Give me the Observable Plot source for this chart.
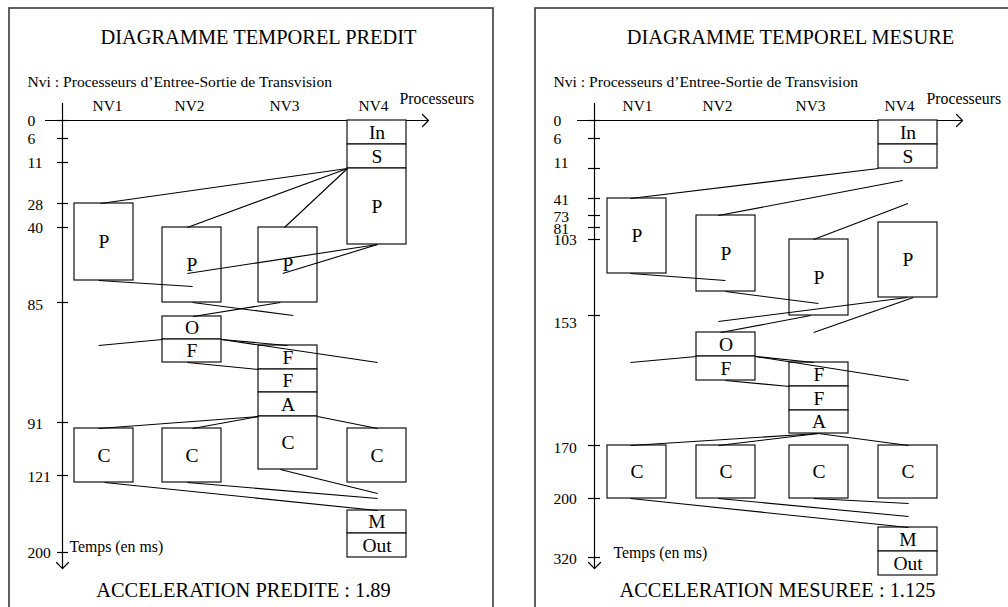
<!DOCTYPE html>
<html><head><meta charset="utf-8">
<script src="https://cdn.jsdelivr.net/npm/d3@7"></script>
<script src="https://cdn.jsdelivr.net/npm/@observablehq/plot@0.6"></script>
<style>
body{margin:0;background:#fff;}
#wrap{display:flex;width:1008px;height:607px;overflow:hidden;}
#wrap svg{overflow:hidden;flex:none;}
</style></head><body><div id="wrap"></div>
<script>
// ---------- shared ----------
const processors = ["NV1", "NV2", "NV3", "NV4"];
const subtitle = "Nvi : Processeurs d\u2019Entree-Sortie de Transvision";
const xAxisLabel = "Processeurs";
const yAxisLabel = "Temps (en ms)";

// ---------- predicted diagram ----------
const predTitle = "DIAGRAMME TEMPOREL PREDIT";
const predCaption = "ACCELERATION PREDITE : 1.89";
// tick label, position on time axis (diagram units), label position
const predTickLabels = ["0", "6", "11", "28", "40", "85", "91", "121", "200"];
const predTickPos = [0, 18, 42, 83, 107, 182, 302, 355, 432];
const predTickLabelPos = [0.5, 18.5, 42.5, 84, 107.5, 184.5, 303, 356.5, 432];
const predBlockProc = ["NV4","NV4","NV4","NV1","NV2","NV3","NV2","NV2","NV3","NV3","NV3","NV3","NV1","NV2","NV4","NV4","NV4"];
const predBlockLabel = ["In","S","P","P","P","P","O","F","F","F","A","C","C","C","C","M","Out"];
const predBlockStart = [0, 24, 48, 83, 107, 107, 196, 219, 225, 249, 272, 296, 308, 308, 308, 390, 413];
const predBlockEnd = [24, 48, 124, 160, 182, 182, 219, 242, 249, 272, 296, 349, 362, 362, 362, 413, 437];
// links: from processor, fraction across box, time -> to processor, fraction, time
const predLinks = [
  ["NV4", 0, 48, "NV1", 0.44, 83],
  ["NV4", 0, 48, "NV2", 0.42, 107],
  ["NV4", 0, 48, "NV3", 0.44, 107],
  ["NV4", 0.51, 124, "NV2", 0.42, 153],
  ["NV4", 0.51, 124, "NV3", 0.41, 153],
  ["NV1", 0.41, 160, "NV2", 0.51, 166],
  ["NV2", 0.51, 182, "NV3", 0.59, 195],
  ["NV3", 0.37, 182, "NV2", 0.52, 196],
  ["NV1", 0.41, 225, "NV2", 0, 219],
  ["NV2", 1, 219, "NV3", 0.49, 225],
  ["NV2", 1, 219, "NV4", 0.51, 242],
  ["NV2", 0.42, 242, "NV3", 0, 249],
  ["NV3", 0, 296, "NV1", 0.41, 308],
  ["NV3", 0, 296, "NV2", 0.51, 308],
  ["NV3", 1, 296, "NV4", 0.51, 308],
  ["NV3", 0.37, 349, "NV4", 0.51, 373],
  ["NV2", 0.42, 362, "NV4", 0.51, 378],
  ["NV1", 0.51, 362, "NV4", 0.51, 390]
];

// ---------- measured diagram ----------
const measTitle = "DIAGRAMME TEMPOREL MESURE";
const measCaption = "ACCELERATION MESUREE : 1.125";
const measTickLabels = ["0", "6", "11", "41", "73", "81", "103", "153", "170", "200", "320"];
const measTickPos = [0, 18, 48, 78, 95, 107, 119, 195, 325, 378, 437];
const measTickLabelPos = [0.5, 18.5, 42.5, 79.5, 96.5, 108, 119.5, 202, 327, 378.5, 438.5];
const measBlockProc = ["NV4","NV4","NV1","NV2","NV3","NV4","NV2","NV2","NV3","NV3","NV3","NV1","NV2","NV3","NV4","NV4","NV4"];
const measBlockLabel = ["In","S","P","P","P","P","O","F","F","F","A","C","C","C","C","M","Out"];
const measBlockStart = [0, 24, 78, 95, 119, 102, 212, 236, 242, 266, 290, 325, 325, 325, 325, 407, 431];
const measBlockEnd = [24, 48, 153, 171, 195, 177, 236, 260, 266, 290, 313, 378, 378, 378, 378, 431, 455];
const measLinks = [
  ["NV4", 0, 48, "NV1", 0.39, 78],
  ["NV4", 0.41, 60, "NV2", 0.37, 95],
  ["NV4", 0.5, 83, "NV3", 0.41, 119],
  ["NV1", 0.39, 153, "NV2", 0.49, 160],
  ["NV2", 0.49, 171, "NV3", 0.49, 183],
  ["NV4", 0.49, 177, "NV2", 0.37, 201],
  ["NV4", 0.59, 177, "NV3", 0.41, 212],
  ["NV3", 0.36, 195, "NV2", 0.41, 212],
  ["NV1", 0.39, 242, "NV2", 0, 236],
  ["NV2", 1, 236, "NV3", 0.41, 242],
  ["NV2", 1, 236, "NV4", 0.51, 260],
  ["NV2", 0.49, 260, "NV3", 0, 266],
  ["NV3", 0.49, 313, "NV1", 0.39, 325],
  ["NV3", 0.49, 313, "NV2", 0.37, 325],
  ["NV3", 0.49, 313, "NV4", 0.51, 325],
  ["NV3", 0.41, 378, "NV4", 0.51, 383],
  ["NV2", 0.37, 378, "NV4", 0.51, 396],
  ["NV1", 0.39, 378, "NV4", 0.51, 407]
];

// ---------- layout ----------
const W = 504, H = 607, AXIS_Y = 120;
const serif = "'Liberation Serif', 'Times New Roman', serif";

function panel(cfg) {
  const {originX, colLeft, headerX, boxW, tickX1, tickX2, labelX, border, title, caption, captionX,
         tempsX, tempsY, procX, axisEnd, tickLabels, tickPos, tickLabelPos,
         bProc, bLabel, bStart, bEnd, links} = cfg;
  const bx = p => colLeft[processors.indexOf(p)];
  const blocks = bLabel.map((l, i) => ({
    label: l, x1: bx(bProc[i]), x2: bx(bProc[i]) + boxW,
    cx: bx(bProc[i]) + boxW / 2, y1: bStart[i], y2: bEnd[i], mid: (bStart[i] + bEnd[i]) / 2
  }));
  const segs = links.map(([p1, f1, t1, p2, f2, t2]) => ({
    x1: bx(p1) + f1 * boxW, y1: t1, x2: bx(p2) + f2 * boxW, y2: t2
  }));
  const ticks = tickLabels.map((l, i) => ({label: l, t: tickPos[i], lt: tickLabelPos[i]}));
  const vEnd = 448;
  const arrows = [
    {x: axisEnd - 6, y: -6, g: "h"}, {x: axisEnd, y: 0, g: "h"}, {x: axisEnd - 6, y: 6, g: "h"},
    {x: -6, y: vEnd - 6, g: "v"}, {x: 0, y: vEnd, g: "v"}, {x: 6, y: vEnd - 6, g: "v"}
  ];
  return Plot.plot({
    width: W, height: H, margin: 0,
    x: {domain: [-originX, W - originX], range: [0, W], axis: null},
    y: {domain: [-AXIS_Y, H - AXIS_Y], range: [0, H], axis: null},
    style: {fontFamily: serif, background: "white", color: "black"},
    marks: [
      Plot.rect([border], {x1: "x1", x2: "x2", y1: "y1", y2: "y2", fill: "none", stroke: "#3a3a3a", strokeWidth: 1.6}),
      Plot.text([title], {x: 196, y: -77, text: d => d, fontSize: 20.4, lineAnchor: "bottom"}),
      Plot.text([subtitle], {x: labelX, y: -34, text: d => d, fontSize: 15.6, textAnchor: "start", lineAnchor: "bottom"}),
      Plot.text(processors, {x: (d, i) => headerX[i], y: -10, text: d => d, fontSize: 15.4, lineAnchor: "bottom"}),
      Plot.text([xAxisLabel], {x: procX, y: -17, text: d => d, fontSize: 15.8, textAnchor: "start", lineAnchor: "bottom"}),
      Plot.text([yAxisLabel], {x: tempsX, y: tempsY, text: d => d, fontSize: 15.8, textAnchor: "start", lineAnchor: "bottom"}),
      Plot.text([caption], {x: captionX, y: 476, text: d => d, fontSize: 20.4, lineAnchor: "bottom"}),
      // axes
      Plot.ruleY([0], {x1: -17, x2: axisEnd, stroke: "black", strokeWidth: 1.2}),
      Plot.ruleX([0], {y1: -17, y2: vEnd, stroke: "black", strokeWidth: 1.2}),
      Plot.line(arrows, {x: "x", y: "y", z: "g", stroke: "black", strokeWidth: 1.2}),
      Plot.ruleY(ticks, {y: "t", x1: tickX1, x2: tickX2, stroke: "black", strokeWidth: 1.2}),
      Plot.text(ticks, {x: labelX, y: "lt", text: "label", fontSize: 15.6, textAnchor: "start"}),
      // blocks
      Plot.rect(blocks, {x1: "x1", x2: "x2", y1: "y1", y2: "y2", fill: "white", stroke: "#111", strokeWidth: 1.2}),
      Plot.text(blocks, {x: "cx", y: "mid", text: "label", fontSize: 19.5}),
      // communication links
      Plot.link(segs, {x1: "x1", y1: "y1", x2: "x2", y2: "y2", stroke: "black", strokeWidth: 1.1})
    ]
  });
}

const wrap = document.getElementById("wrap");
wrap.append(panel({
  originX: 62, colLeft: [12, 100, 196, 285], headerX: [45, 127, 222, 311], boxW: 59,
  tickX1: -5, tickX2: 6, labelX: -35,
  border: {x1: 9 - 62, x2: 493 - 62, y1: 8 - AXIS_Y, y2: 640},
  title: predTitle, caption: predCaption, captionX: 181,
  tempsX: 7, tempsY: 431, procX: 337, axisEnd: 366,
  tickLabels: predTickLabels, tickPos: predTickPos, tickLabelPos: predTickLabelPos,
  bProc: predBlockProc, bLabel: predBlockLabel, bStart: predBlockStart, bEnd: predBlockEnd,
  links: predLinks
}));
wrap.append(panel({
  originX: 90, colLeft: [13, 102, 195, 284], headerX: [43, 123, 216, 305], boxW: 59,
  tickX1: -6, tickX2: 6, labelX: -41,
  border: {x1: 31 - 90, x2: 700, y1: 8 - AXIS_Y, y2: 640},
  title: measTitle, caption: measCaption, captionX: 183,
  tempsX: 19, tempsY: 437, procX: 332, axisEnd: 368,
  tickLabels: measTickLabels, tickPos: measTickPos, tickLabelPos: measTickLabelPos,
  bProc: measBlockProc, bLabel: measBlockLabel, bStart: measBlockStart, bEnd: measBlockEnd,
  links: measLinks
}));
</script></body></html>
